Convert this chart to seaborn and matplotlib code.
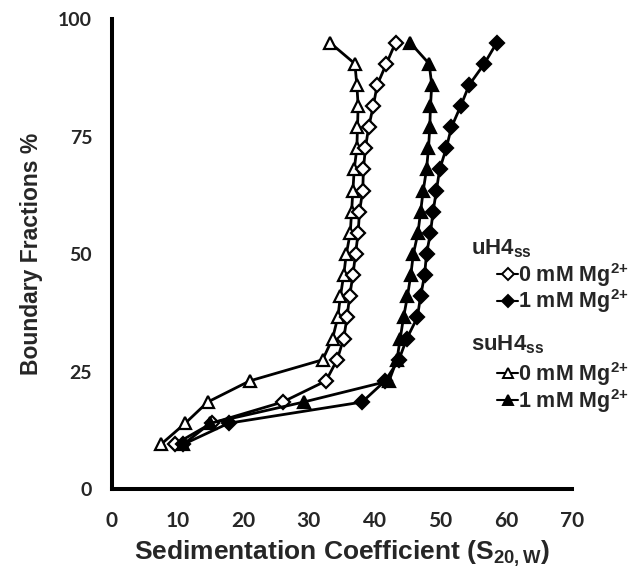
import matplotlib
matplotlib.use("Agg")
import matplotlib.pyplot as plt
import seaborn as sns
from matplotlib.lines import Line2D

# boundary fractions (%), shared by all four runs
fractions = [9.5, 14, 18.5, 23, 27.5, 32, 36.5, 41, 45.5, 50,
             54.5, 59, 63.5, 68, 72.5, 77, 81.5, 86, 90.5, 95]

# sedimentation coefficients
uh4_0mg = [9.6, 15.2, 26.0, 32.6, 34.3, 35.3, 35.8, 36.2, 36.7, 37.1,
           37.5, 37.7, 38.2, 38.3, 38.6, 39.1, 39.8, 40.4, 41.8, 43.2]
uh4_1mg = [10.9, 17.8, 38.1, 41.6, 43.7, 44.9, 46.5, 47.0, 47.6, 47.9,
           48.5, 48.9, 49.4, 49.9, 50.9, 51.7, 53.1, 54.4, 56.7, 58.6]
suh4_0mg = [7.5, 11.2, 14.6, 21.0, 32.1, 33.6, 34.4, 34.8, 35.3, 35.7,
            36.3, 36.5, 36.7, 36.9, 37.3, 37.4, 37.5, 37.3, 37.0, 33.2]
suh4_1mg = [10.9, 15.0, 29.2, 42.2, 43.4, 43.9, 44.4, 45.0, 45.5, 45.9,
            46.6, 47.0, 47.4, 47.9, 48.2, 48.4, 48.5, 48.7, 48.3, 45.4]

x_ticks = [0, 10, 20, 30, 40, 50, 60, 70]
y_ticks = [0, 25, 50, 75, 100]

sns.set_style("white")
plt.rcParams["font.family"] = ["Liberation Sans", "DejaVu Sans"]
plt.rcParams["mathtext.fontset"] = "custom"
plt.rcParams["mathtext.rm"] = "Liberation Sans:bold"
plt.rcParams["mathtext.bf"] = "Liberation Sans:bold"
plt.rcParams["mathtext.it"] = "Liberation Sans:bold"

fig = plt.figure(figsize=(6.32, 5.78), dpi=100)
ax = fig.add_axes([0.1767, 0.154, 0.728, 0.813])

# (x values, marker, face colour, marker size)
series = [
    (suh4_0mg, "^", "white", 9),
    (uh4_0mg, "D", "white", 7),
    (suh4_1mg, "^", "black", 9),
    (uh4_1mg, "D", "black", 7),
]
for xs, mk, fc, ms in series:
    sns.lineplot(x=xs, y=fractions, ax=ax, sort=False, estimator=None,
                 color="black", lw=2.0, marker=mk, markersize=ms,
                 markerfacecolor=fc, markeredgecolor="black", markeredgewidth=1.6)

ax.set_xlim(0, 70)
ax.set_ylim(0, 100)
ax.set_xticks(x_ticks)
ax.set_yticks(y_ticks)
for s in ["top", "right"]:
    ax.spines[s].set_visible(False)
for s in ["left", "bottom"]:
    ax.spines[s].set_linewidth(2.9)
    ax.spines[s].set_color("black")
ax.tick_params(axis="both", direction="out", length=6, width=2.2, color="black")
ax.tick_params(axis="x", pad=10)
ax.tick_params(axis="y", pad=8)
for lab in ax.get_xticklabels():
    lab.set_fontfamily("Lato")
    lab.set_fontweight("bold")
    lab.set_fontsize(15)
for lab in ax.get_yticklabels():
    lab.set_fontfamily("Lato")
    lab.set_fontweight("bold")
    lab.set_fontsize(14)

ax.set_xlabel(r"Sedimentation Coefficient (S$_{\mathbf{20,W}}$)", fontsize=19,
              fontweight="bold", labelpad=5)
ax.set_ylabel("Boundary Fractions %", fontsize=16.5, fontweight="bold", labelpad=11)

mg0 = r"0 mM Mg$^{\mathbf{2{+}}}$"
mg1 = r"1 mM Mg$^{\mathbf{2{+}}}$"

def group_legend(title, mk, ms, y_title, y_top):
    fig.text(0.745, y_title, title, fontsize=16, fontweight="bold", va="baseline")
    handles = [
        Line2D([], [], color="black", lw=1.5, marker=mk, markersize=ms * 0.85,
               markerfacecolor="white", markeredgecolor="black", markeredgewidth=1.4),
        Line2D([], [], color="black", lw=1.5, marker=mk, markersize=ms * 0.85,
               markerfacecolor="black", markeredgecolor="black", markeredgewidth=1.4),
    ]
    fig.legend(handles, [mg0, mg1], loc="upper left",
               bbox_to_anchor=(0.786, y_top), frameon=False, handlelength=1.0,
               handletextpad=0.0, labelspacing=-0.05, borderpad=0.0,
               borderaxespad=0.0, prop={"size": 15.5, "weight": "bold"})

group_legend(r"uH4$_{\mathbf{ss}}$", "D", 7, 0.559, 0.549)
group_legend(r"suH4$_{\mathbf{ss}}$", "^", 9, 0.3945, 0.377)

fig.savefig("out.png", dpi=100)
